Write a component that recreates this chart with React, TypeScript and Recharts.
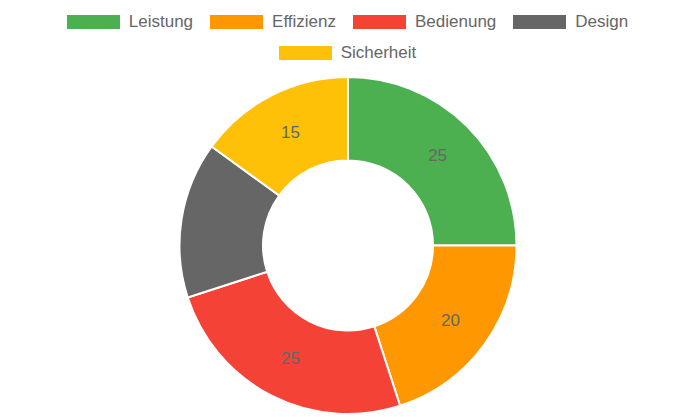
import React from "react";
import { PieChart, Pie, Cell } from "recharts";

const categories = ["Leistung", "Effizienz", "Bedienung", "Design", "Sicherheit"];
const values = [25, 20, 25, 15, 15];
const colors = ["#4CAF50", "#FF9800", "#F44336", "#666666", "#FFC107"];

const data = categories.map((name, i) => ({ name, value: values[i] }));

const FONT = '"Liberation Sans", Arial, Helvetica, sans-serif';
const RAD = Math.PI / 180;

const renderLabel = (props: any) => {
  const { cx, cy, midAngle, innerRadius, outerRadius, value } = props;
  const r = (innerRadius + outerRadius) / 2;
  const x = cx + r * Math.cos(-midAngle * RAD);
  const y = cy + r * Math.sin(-midAngle * RAD);
  return (
    <text
      x={x}
      y={y}
      fill="#666666"
      fontSize={17}
      fontFamily={FONT}
      textAnchor="middle"
      dominantBaseline="central"
    >
      {value}
    </text>
  );
};

export default function App() {
  return (
    <div style={{ position: "fixed", left: 0, top: 0, width: 695, height: 417, background: "#fff" }}>
      <div
        style={{
          position: "absolute",
          left: 0,
          top: 7,
          width: 695,
          display: "flex",
          flexWrap: "wrap",
          justifyContent: "center",
          columnGap: 17,
          fontFamily: FONT,
          fontSize: 17,
          color: "#666666",
        }}
      >
        {categories.map((c, i) => (
          <div key={c} style={{ display: "flex", alignItems: "center", height: 30.5 }}>
            <div style={{ width: 53, height: 14, background: colors[i], marginRight: 9 }} />
            <span style={{ whiteSpace: "nowrap" }}>{c}</span>
          </div>
        ))}
      </div>
      <PieChart
        width={695}
        height={417}
        margin={{ top: 0, right: 0, bottom: 0, left: 0 }}
        style={{ position: "absolute", left: 0, top: 0 }}
      >
        <Pie
          data={data}
          dataKey="value"
          nameKey="name"
          cx={348}
          cy={245.5}
          innerRadius={85}
          outerRadius={168.5}
          startAngle={90}
          endAngle={-270}
          stroke="#ffffff"
          strokeWidth={2}
          label={renderLabel}
          labelLine={false}
          isAnimationActive={false}
        >
          {data.map((d, i) => (
            <Cell key={d.name} fill={colors[i]} />
          ))}
        </Pie>
      </PieChart>
    </div>
  );
}
